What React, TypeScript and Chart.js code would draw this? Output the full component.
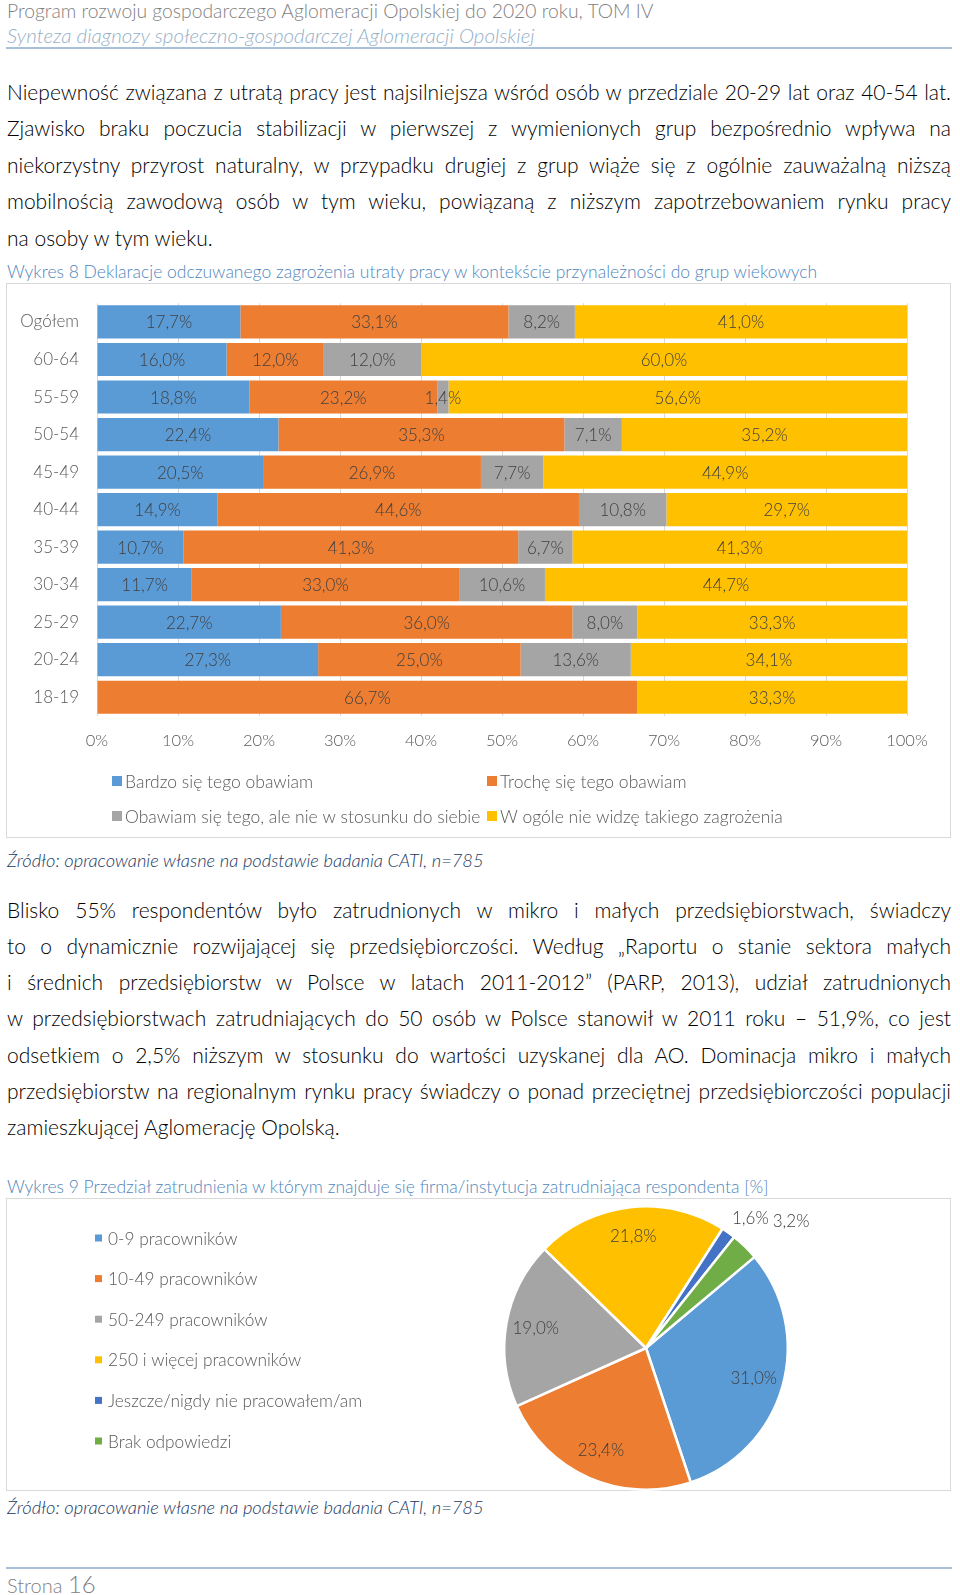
import React, { useEffect, useRef } from 'react';
import { Chart, registerables } from 'chart.js';

Chart.register(...registerables);

const FONT = 'Lato, "Open Sans", sans-serif';
const W = 300;

// ---------- Wykres 8 data ----------
const ageGroups = ['Ogółem', '60-64', '55-59', '50-54', '45-49', '40-44', '35-39', '30-34', '25-29', '20-24', '18-19'];
const seriesNames = [
  'Bardzo się tego obawiam',
  'Trochę się tego obawiam',
  'Obawiam się tego, ale nie w stosunku do siebie',
  'W ogóle nie widzę takiego zagrożenia',
];
const veryAfraid = [17.7, 16.0, 18.8, 22.4, 20.5, 14.9, 10.7, 11.7, 22.7, 27.3, 0];
const slightlyAfraid = [33.1, 12.0, 23.2, 35.3, 26.9, 44.6, 41.3, 33.0, 36.0, 25.0, 66.7];
const afraidNotSelf = [8.2, 12.0, 1.4, 7.1, 7.7, 10.8, 6.7, 10.6, 8.0, 13.6, 0];
const noThreat = [41.0, 60.0, 56.6, 35.2, 44.9, 29.7, 41.3, 44.7, 33.3, 34.1, 33.3];
const barColors = ['#5B9BD5', '#ED7D31', '#A5A5A5', '#FFC000'];

// ---------- Wykres 9 data ----------
const firmSizes = [
  '0-9 pracowników',
  '10-49 pracowników',
  '50-249 pracowników',
  '250 i więcej pracowników',
  'Jeszcze/nigdy nie pracowałem/am',
  'Brak odpowiedzi',
];
const firmShares = [31.0, 23.4, 19.0, 21.8, 1.6, 3.2];
const pieColors = ['#5B9BD5', '#ED7D31', '#A5A5A5', '#FFC000', '#4472C4', '#70AD47'];

const fmtPct = (v: number) => v.toFixed(1).replace('.', ',') + '%';

const barValueLabels = {
  id: 'barValueLabels',
  afterDatasetsDraw(chart: any) {
    const ctx = chart.ctx;
    ctx.save();
    ctx.font = `${W} 17px ${FONT}`;
    ctx.fillStyle = '#404040';
    ctx.textAlign = 'center';
    ctx.textBaseline = 'middle';
    chart.data.datasets.forEach((ds: any, di: number) => {
      const meta = chart.getDatasetMeta(di);
      meta.data.forEach((el: any, i: number) => {
        const v = ds.data[i];
        if (!v) return;
        ctx.fillText(fmtPct(v), (el.x + el.base) / 2, el.y + 1);
      });
    });
    ctx.restore();
  },
};

const barGridLegend = {
  id: 'barGridLegend',
  afterDraw(chart: any) {
    const ctx = chart.ctx;
    const area = chart.chartArea;
    const colX = [106, 481];
    const box = 10;
    ctx.save();
    ctx.font = `${W} 17.5px ${FONT}`;
    ctx.textBaseline = 'middle';
    ctx.textAlign = 'left';
    chart.data.datasets.forEach((ds: any, i: number) => {
      const col = i % 2;
      const row = Math.floor(i / 2);
      const x = colX[col];
      const y = area.bottom + 65 + row * 35;
      ctx.fillStyle = ds.backgroundColor;
      ctx.fillRect(x, y - box / 2, box, box);
      ctx.fillStyle = '#595959';
      ctx.fillText(ds.label, x + box + 3, y + 1);
    });
    ctx.restore();
  },
};

const pieValueLabels = {
  id: 'pieValueLabels',
  afterDatasetsDraw(chart: any) {
    const ctx = chart.ctx;
    const meta = chart.getDatasetMeta(0);
    const ds = chart.data.datasets[0];
    ctx.save();
    ctx.font = `${W} 17px ${FONT}`;
    ctx.fillStyle = '#404040';
    ctx.textAlign = 'center';
    ctx.textBaseline = 'middle';
    const h = 18;
    let lastRight = -Infinity;
    let lastY = 0;
    meta.data.forEach((arc: any, i: number) => {
      const v = ds.data[i];
      const p = arc.getProps(['x', 'y', 'startAngle', 'endAngle', 'outerRadius'], true);
      const mid = (p.startAngle + p.endAngle) / 2;
      const text = fmtPct(v);
      const w = ctx.measureText(text).width;
      let px: number;
      let py: number;
      if (v >= 5) {
        px = p.x + Math.cos(mid) * p.outerRadius * 0.79;
        py = p.y + Math.sin(mid) * p.outerRadius * 0.79;
      } else {
        const d = p.outerRadius + 6;
        const ax = p.x + Math.cos(mid) * d;
        const ay = p.y + Math.sin(mid) * d;
        px = ax + Math.sign(Math.cos(mid)) * w / 2;
        py = ay + Math.sign(Math.sin(mid)) * h / 2;
        if (px - w / 2 < lastRight + 4) {
          px = lastRight + 4 + w / 2;
          py = lastY + 3;
        }
        lastRight = px + w / 2;
        lastY = py;
      }
      ctx.fillText(text, px, py);
    });
    ctx.restore();
  },
};

const pieListLegend = {
  id: 'pieListLegend',
  afterDraw(chart: any) {
    const ctx = chart.ctx;
    const ds = chart.data.datasets[0];
    const box = 7;
    ctx.save();
    ctx.font = `${W} 17.3px ${FONT}`;
    ctx.textBaseline = 'middle';
    ctx.textAlign = 'left';
    chart.data.labels.forEach((label: string, i: number) => {
      const x = 89;
      const y = 40 + i * 40.6;
      ctx.fillStyle = ds.backgroundColor[i];
      ctx.fillRect(x, y - box / 2, box, box);
      ctx.fillStyle = '#595959';
      ctx.fillText(label, x + 13, y + 1);
    });
    ctx.restore();
  },
};

const LH = 26;

type TProps = {
  cy: number;
  left?: number;
  width?: number;
  size: number;
  color?: string;
  italic?: boolean;
  justify?: boolean;
  children: React.ReactNode;
};

const T = ({ cy, left = 7, width = 944, size, color = '#000', italic, justify, children }: TProps) => (
  <div
    style={{
      position: 'absolute',
      left,
      top: cy - LH / 2,
      width,
      height: LH,
      lineHeight: LH + 'px',
      fontSize: size,
      fontWeight: W,
      color,
      fontStyle: italic ? 'italic' : 'normal',
      textAlign: justify ? 'justify' : 'left',
      textAlignLast: justify ? 'justify' : 'auto',
      whiteSpace: 'nowrap',
    } as React.CSSProperties}
  >
    {children}
  </div>
);

const para1 = [
  'Niepewność związana z utratą pracy jest najsilniejsza wśród osób w przedziale 20-29 lat oraz 40-54 lat.',
  'Zjawisko braku poczucia stabilizacji w pierwszej z wymienionych grup bezpośrednio wpływa na',
  'niekorzystny przyrost naturalny, w przypadku drugiej z grup wiąże się z ogólnie zauważalną niższą',
  'mobilnością zawodową osób w tym wieku, powiązaną z niższym zapotrzebowaniem rynku pracy',
  'na osoby w tym wieku.',
];
const para1Y = [92, 128, 165, 201, 238];

const para2 = [
  'Blisko 55% respondentów było zatrudnionych w mikro i małych przedsiębiorstwach, świadczy',
  'to o dynamicznie rozwijającej się przedsiębiorczości. Według „Raportu o stanie sektora małych',
  'i średnich przedsiębiorstw w Polsce w latach 2011-2012” (PARP, 2013), udział zatrudnionych',
  'w przedsiębiorstwach zatrudniających do 50 osób w Polsce stanowił w 2011 roku – 51,9%, co jest',
  'odsetkiem o 2,5% niższym w stosunku do wartości uzyskanej dla AO. Dominacja mikro i małych',
  'przedsiębiorstw na regionalnym rynku pracy świadczy o ponad przeciętnej przedsiębiorczości populacji',
  'zamieszkującej Aglomerację Opolską.',
];
const para2Y = [910, 946, 982, 1018, 1055, 1091, 1127];

export default function App() {
  const barRef = useRef<HTMLCanvasElement>(null);
  const pieRef = useRef<HTMLCanvasElement>(null);

  useEffect(() => {
    const seriesData = [veryAfraid, slightlyAfraid, afraidNotSelf, noThreat];
    const bar = new Chart(barRef.current as HTMLCanvasElement, {
      type: 'bar',
      data: {
        labels: ageGroups,
        datasets: seriesData.map((d, i) => ({
          label: seriesNames[i],
          data: d,
          backgroundColor: barColors[i],
          borderWidth: 0,
          barPercentage: 0.885,
          categoryPercentage: 1,
        })),
      },
      options: {
        indexAxis: 'y',
        responsive: false,
        animation: false,
        layout: { padding: { left: 0, top: 20, right: 44, bottom: 82 } },
        plugins: { legend: { display: false }, tooltip: { enabled: false } },
        scales: {
          x: {
            stacked: true,
            min: 0,
            max: 100,
            ticks: {
              stepSize: 10,
              callback: (v: any) => v + '%',
              color: '#595959',
              font: { family: FONT, size: 16.5, weight: W },
              padding: 15,
              maxRotation: 0,
            },
            grid: { color: '#D9D9D9', drawTicks: false },
            border: { display: false },
            afterFit: (s: any) => {
              s.height = 40;
            },
          },
          y: {
            stacked: true,
            ticks: { color: '#595959', font: { family: FONT, size: 17, weight: W }, padding: 10 },
            grid: { display: false },
            border: { display: false },
            afterFit: (s: any) => {
              s.width = 91;
            },
          },
        },
      } as any,
      plugins: [barValueLabels, barGridLegend],
    });

    const pie = new Chart(pieRef.current as HTMLCanvasElement, {
      type: 'pie',
      data: {
        labels: firmSizes,
        datasets: [
          {
            data: firmShares,
            backgroundColor: pieColors,
            borderColor: '#FFFFFF',
            borderWidth: 2.5,
            hoverOffset: 0,
            offset: 0,
          },
        ],
      },
      options: {
        responsive: false,
        animation: false,
        rotation: 50,
        layout: { padding: { left: 497, right: 162, top: 7, bottom: 0 } },
        plugins: { legend: { display: false }, tooltip: { enabled: false } },
      } as any,
      plugins: [pieValueLabels, pieListLegend],
    });

    return () => {
      bar.destroy();
      pie.destroy();
    };
  }, []);

  return (
    <div
      style={{
        position: 'absolute',
        left: 0,
        top: 0,
        width: 960,
        height: 1595,
        background: '#fff',
        fontFamily: FONT,
        overflow: 'hidden',
      }}
    >
      <T cy={11} size={19.3} color="#7F7F7F">
        Program rozwoju gospodarczego Aglomeracji Opolskiej do 2020 roku, TOM IV
      </T>
      <T cy={35} size={20.5} color="#95AFC8" italic>
        Synteza diagnozy społeczno-gospodarczej Aglomeracji Opolskiej
      </T>
      <div style={{ position: 'absolute', left: 6, top: 47, width: 946, height: 2, background: '#A9C1D6' }} />

      {para1.map((line, i) => (
        <T key={'p1' + i} cy={para1Y[i]} size={21} justify={i < para1.length - 1}>
          {line}
        </T>
      ))}

      <T cy={272} size={17.5} color="#4F86BD">
        Wykres 8 Deklaracje odczuwanego zagrożenia utraty pracy w kontekście przynależności do grup wiekowych
      </T>

      <div
        style={{
          position: 'absolute',
          left: 6,
          top: 283,
          width: 945,
          height: 555,
          border: '1px solid #D9D9D9',
          boxSizing: 'border-box',
        }}
      />
      <canvas
        ref={barRef}
        width={945}
        height={555}
        style={{ position: 'absolute', left: 6, top: 283, width: 945, height: 555 }}
      />

      <T cy={860} size={18.3} color="#203864" italic>
        Źródło: opracowanie własne na podstawie badania CATI, n=785
      </T>

      {para2.map((line, i) => (
        <T key={'p2' + i} cy={para2Y[i]} size={21} justify={i < para2.length - 1}>
          {line}
        </T>
      ))}

      <T cy={1187} size={17.5} color="#4F86BD">
        Wykres 9 Przedział zatrudnienia w którym znajduje się firma/instytucja zatrudniająca respondenta [%]
      </T>

      <div
        style={{
          position: 'absolute',
          left: 6,
          top: 1198,
          width: 945,
          height: 293,
          border: '1px solid #D9D9D9',
          boxSizing: 'border-box',
        }}
      />
      <canvas
        ref={pieRef}
        width={945}
        height={293}
        style={{ position: 'absolute', left: 6, top: 1198, width: 945, height: 293 }}
      />

      <T cy={1507} size={18.3} color="#203864" italic>
        Źródło: opracowanie własne na podstawie badania CATI, n=785
      </T>

      <div style={{ position: 'absolute', left: 6, top: 1567, width: 946, height: 2, background: '#A9C1D6' }} />
      <div
        style={{
          position: 'absolute',
          left: 7,
          top: 1570,
          height: 28,
          lineHeight: '28px',
          color: '#7F7F7F',
          fontWeight: W,
          whiteSpace: 'nowrap',
        }}
      >
        <span style={{ fontSize: 20 }}>Strona </span>
        <span style={{ fontSize: 24 }}>16</span>
      </div>
    </div>
  );
}
